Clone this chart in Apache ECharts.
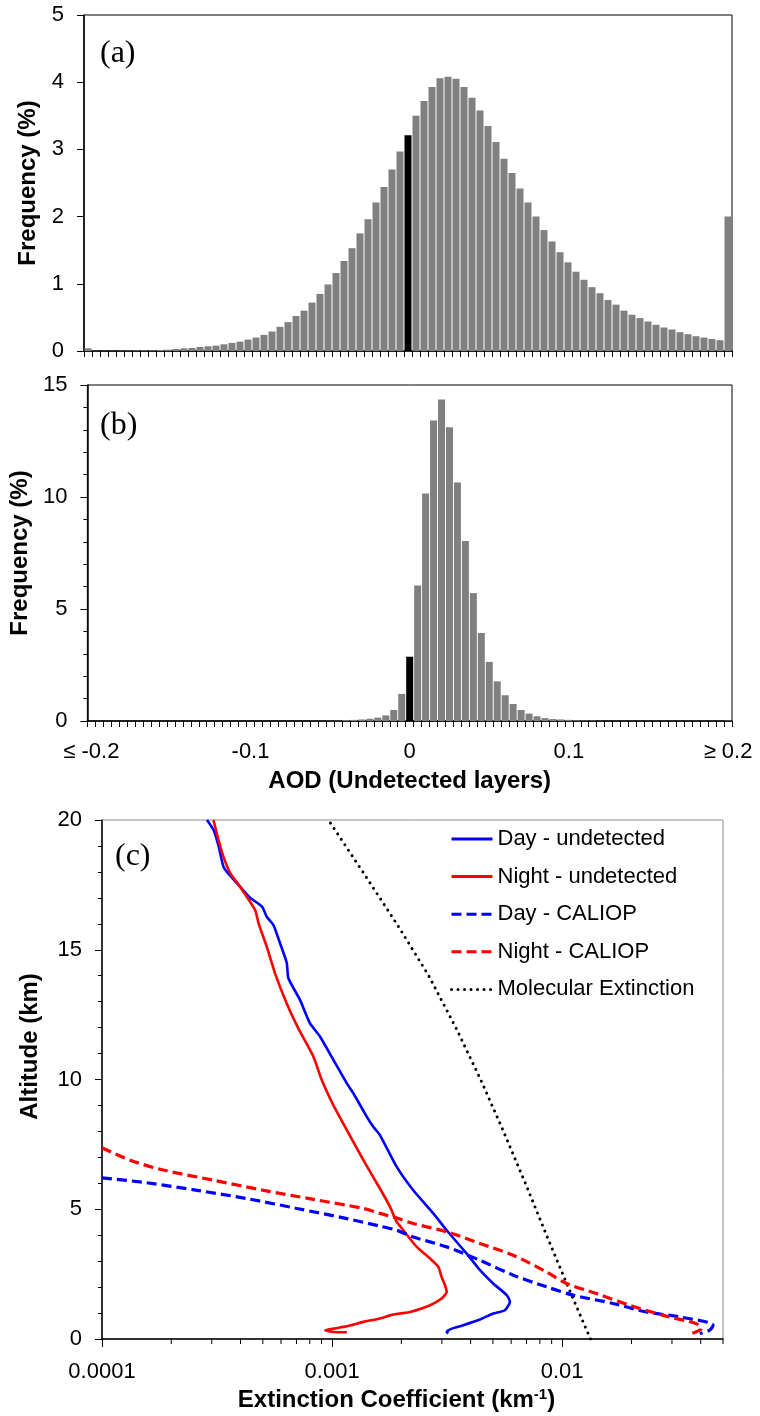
<!DOCTYPE html>
<html><head><meta charset="utf-8">
<script src="https://cdn.jsdelivr.net/npm/echarts@6/dist/echarts.min.js"></script>
<style>html,body{margin:0;padding:0;background:#fff}#c{width:760px;height:1416px}</style>
</head><body><div id="c"></div>
<script>
// ---------- data ----------
const categories = [
 "-0.200","-0.195","-0.190","-0.185","-0.180","-0.175","-0.170","-0.165","-0.160","-0.155",
 "-0.150","-0.145","-0.140","-0.135","-0.130","-0.125","-0.120","-0.115","-0.110","-0.105",
 "-0.100","-0.095","-0.090","-0.085","-0.080","-0.075","-0.070","-0.065","-0.060","-0.055",
 "-0.050","-0.045","-0.040","-0.035","-0.030","-0.025","-0.020","-0.015","-0.010","-0.005",
 "0.000","0.005","0.010","0.015","0.020","0.025","0.030","0.035","0.040","0.045",
 "0.050","0.055","0.060","0.065","0.070","0.075","0.080","0.085","0.090","0.095",
 "0.100","0.105","0.110","0.115","0.120","0.125","0.130","0.135","0.140","0.145",
 "0.150","0.155","0.160","0.165","0.170","0.175","0.180","0.185","0.190","0.195",
 "0.200"];
const freqA = [
 0.04,0.003,0.003,0.004,0.005,0.006,0.008,0.01,0.01,0.015,
 0.02,0.03,0.04,0.045,0.06,0.07,0.08,0.10,0.12,0.14,
 0.17,0.20,0.24,0.29,0.36,0.43,0.52,0.60,0.72,0.85,
 0.99,1.16,1.34,1.53,1.75,1.96,2.21,2.44,2.70,2.97,
 3.21,3.50,3.72,3.93,4.06,4.08,4.05,3.93,3.77,3.58,
 3.35,3.11,2.86,2.65,2.42,2.21,2.00,1.80,1.63,1.47,
 1.32,1.18,1.06,0.95,0.86,0.76,0.69,0.60,0.54,0.49,
 0.44,0.39,0.35,0.32,0.28,0.25,0.22,0.20,0.18,0.16,
 2.00];
const freqB = [
 0,0,0,0,0,0,0,0,0,0,
 0,0,0,0,0,0,0,0,0,0,
 0,0,0,0,0,0,0,0,0.005,0.005,
 0.01,0.015,0.04,0.05,0.07,0.10,0.15,0.25,0.49,1.21,
 2.87,6.05,10.16,13.41,14.35,13.11,10.65,8.04,5.71,3.93,
 2.64,1.77,1.15,0.76,0.49,0.33,0.21,0.13,0.09,0.07,
 0.05,0.03,0.02,0.02,0.01,0.005,0.005,0.005,0.005,0.005,
 0.005,0.005,0.005,0.005,0.005,0.005,0.005,0.005,0.005,0.005,
 0.02];
const zeroBinIndex = 40;
const xTickIndex = [0, 20, 40, 60, 80];
const xTickText = ['\u2264 -0.2', '-0.1', '0', '0.1', '\u2265 0.2'];

// [extinction (km-1), altitude (km)]
const dayUndetected = [
 [0.000286,20.0],[0.000306,19.6],[0.000321,19.0],[0.000337,18.2],[0.000349,18.0],
 [0.000392,17.5],[0.000441,17.0],[0.000496,16.66],[0.000520,16.27],[0.000556,15.95],
 [0.000594,15.25],[0.000635,14.5],[0.000646,13.9],[0.000726,13.06],[0.000802,12.16],
 [0.000887,11.65],[0.001014,10.75],[0.001159,9.85],[0.001239,9.46],[0.001416,8.56],
 [0.00151,8.18],[0.001614,7.86],[0.00191,6.63],[0.002254,5.73],[0.002754,4.84],
 [0.003148,4.19],[0.003846,3.29],[0.004395,2.65],[0.005012,2.14],[0.005741,1.69],
 [0.005929,1.43],[0.005636,1.11],[0.005012,0.98],[0.004395,0.75],[0.003715,0.53],
 [0.003311,0.40],[0.003148,0.27],[0.0032,0.21]];
const nightUndetected = [
 [0.000305,20.0],[0.000321,19.23],[0.000337,18.59],[0.000361,17.95],[0.000398,17.43],
 [0.000463,16.53],[0.000479,16.02],[0.00052,15.12],[0.000565,14.09],[0.000635,12.93],
 [0.000715,11.95],[0.00083,10.88],[0.0009,10.0],[0.001014,9.0],[0.001159,8.05],
 [0.001368,6.89],[0.001614,5.8],[0.001786,5.09],[0.00191,4.51],[0.002042,4.19],
 [0.002333,3.55],[0.002667,3.10],[0.002897,2.78],[0.002992,2.39],[0.003097,2.07],
 [0.003148,1.81],[0.002992,1.56],[0.002667,1.30],[0.002183,1.04],[0.00197,0.98],
 [0.001786,0.91],[0.001614,0.79],[0.001368,0.66],[0.001159,0.49],[0.001014,0.40],
 [0.000933,0.34],[0.001014,0.27],[0.001159,0.26]];
const dayCaliop = [
 [0.0001,6.21],[0.0001567,6.02],[0.000259,5.73],[0.000427,5.41],[0.000703,5.03],
 [0.001159,4.64],[0.001614,4.35],[0.00191,4.19],[0.002254,3.93],[0.003148,3.55],
 [0.004395,3.03],[0.006124,2.46],[0.00855,2.01],[0.01117,1.69],[0.01663,1.37],
 [0.02323,1.04],[0.03243,0.85],[0.04529,0.53],[0.04375,0.34],[0.03963,0.21]];
const nightCaliop = [
 [0.0001,7.37],[0.0001327,6.89],[0.000185,6.51],[0.000305,6.12],[0.000504,5.73],
 [0.00083,5.38],[0.001368,5.03],[0.001614,4.84],[0.00191,4.66],[0.002254,4.45],
 [0.003148,4.13],[0.004395,3.68],[0.006124,3.23],[0.00855,2.58],[0.01045,2.14],
 [0.0141,1.75],[0.01968,1.30],[0.02748,0.91],[0.03828,0.59],[0.04027,0.40],[0.03648,0.21]];
const molecular = [
 [0.01327,0],[0.01062,2],[0.00855,4],[0.00692,6],[0.00556,8],[0.00442,10],
 [0.00345,12],[0.00263,14],[0.00191,16],[0.00136,18],[0.000964,20]];

const logTickValues = [0.0001, 0.001, 0.01];
const logTickText = ['0.0001', '0.001', '0.01'];
const logMinorTicks = [0.0002,0.0003,0.0004,0.0005,0.0006,0.0007,0.0008,0.0009,
 0.002,0.003,0.004,0.005,0.006,0.007,0.008,0.009,0.02,0.03,0.04,0.05];
const seriesNames = ['Day - undetected','Night - undetected','Day - CALIOP','Night - CALIOP','Molecular Extinction'];

// ---------- chart ----------
const FONT = '"Liberation Sans", Arial, sans-serif';
const SERIF = '"Liberation Serif", "Times New Roman", serif';
const chart = echarts.init(document.getElementById('c'), null, {renderer: 'canvas'});

const tickLabelStyle = {fontSize: 22, fontFamily: FONT, color: '#000'};
const nameStyle = {fontSize: 24, fontWeight: 'bold', fontFamily: FONT, color: '#000'};

function catAxis(gi, withLabels) {
  const ax = {
    type: 'category', gridIndex: gi, data: categories, boundaryGap: true,
    axisLine: {show: true, lineStyle: {color: '#000', width: 1.5}},
    axisTick: {show: true, interval: 0, length: 6, lineStyle: {color: '#000', width: 1}},
    splitLine: {show: false},
    axisLabel: {show: false}
  };
  if (withLabels) {
    ax.axisLabel = Object.assign({
      show: true, margin: 20,
      interval: (i) => xTickIndex.indexOf(i) >= 0,
      formatter: (v, i) => { const k = xTickIndex.indexOf(i); return k >= 0 ? xTickText[k] : ''; }
    }, tickLabelStyle);
    ax.name = 'AOD (Undetected layers)';
    ax.nameLocation = 'middle';
    ax.nameGap = 48;
    ax.nameTextStyle = nameStyle;
  }
  return ax;
}

function valAxis(gi, max, interval, minor, name, gap, shiftUp) {
  return {
    type: 'value', gridIndex: gi, min: 0, max: max, interval: interval,
    axisLine: {show: true, lineStyle: {color: '#000', width: 1.5}},
    axisTick: {show: true, length: 7, lineStyle: {color: '#000', width: 1}},
    minorTick: {show: minor, splitNumber: 5, length: 4, lineStyle: {color: '#000', width: 1}},
    splitLine: {show: false}, minorSplitLine: {show: false},
    axisLabel: Object.assign({margin: 20}, tickLabelStyle),
    name: name, nameLocation: 'middle', nameGap: gap, nameRotate: 90,
    nameTextStyle: Object.assign({padding: [0, 0, 0, shiftUp]}, nameStyle)
  };
}

function barSeries(idx, data) {
  return {
    type: 'bar', xAxisIndex: idx, yAxisIndex: idx, data: data, barWidth: 7,
    itemStyle: {color: (p) => p.dataIndex === zeroBinIndex ? '#000000' : '#808080'},
    silent: true
  };
}

function lineSeries(name, data, color, type, width, smooth) {
  return {
    type: 'line', name: name, xAxisIndex: 2, yAxisIndex: 2, data: data,
    symbol: 'none', showSymbol: false, symbolSize: 0, smooth: smooth,
    lineStyle: {color: color, width: width, type: type, cap: Array.isArray(type) && type[0] < 1 ? 'round' : 'butt'},
    itemStyle: {color: color}, silent: true, z: 3
  };
}

const option = {
  animation: false,
  backgroundColor: '#fff',
  grid: [
    {left: 84, top: 15, width: 648, height: 336, show: true, borderColor: '#000', borderWidth: 1, backgroundColor: 'transparent'},
    {left: 84, top: 385, width: 648, height: 336, show: true, borderColor: '#000', borderWidth: 1, backgroundColor: 'transparent'},
    {left: 102, top: 820, width: 621, height: 519, show: true, borderColor: '#8c8c8c', borderWidth: 1, backgroundColor: 'transparent'}
  ],
  xAxis: [
    catAxis(0, false),
    catAxis(1, true),
    {
      type: 'log', gridIndex: 2, logBase: 10, min: 0.0001, max: 0.05,
      axisLine: {show: true, lineStyle: {color: '#000', width: 1.5}},
      axisTick: {show: true, length: 8, lineStyle: {color: '#000', width: 1}},
      minorTick: {show: false}, splitLine: {show: false},
      axisLabel: Object.assign({
        margin: 22, showMaxLabel: false,
        formatter: (v) => {
          const k = logTickValues.findIndex(t => Math.abs(t - v) / t < 1e-6);
          return k >= 0 ? logTickText[k] : '';
        }
      }, tickLabelStyle),
      name: '{t|Extinction Coefficient (km}{s|-1}{t|)}',
      nameLocation: 'middle', nameGap: 48,
      nameTextStyle: {
        padding: [0, 32, 0, 0],
        rich: {
          t: {fontSize: 24, fontWeight: 'bold', fontFamily: FONT, color: '#000'},
          s: {fontSize: 15, fontWeight: 'bold', fontFamily: FONT, color: '#000', padding: [0, 0, 12, 0]}
        }
      }
    }
  ],
  yAxis: [
    valAxis(0, 5, 1, false, 'Frequency (%)', 42, 0),
    valAxis(1, 15, 5, true, 'Frequency (%)', 42, 0),
    valAxis(2, 20, 5, true, 'Altitude (km)', 60, 66)
  ],
  legend: {
    orient: 'vertical', left: 450, top: 827, padding: 0,
    itemWidth: 41, itemHeight: 14, itemGap: 13.6,
    data: seriesNames,
    itemStyle: {opacity: 0},
    lineStyle: {width: 3},
    textStyle: {fontSize: 22, fontFamily: FONT, color: '#000', lineHeight: 24},
    selectedMode: false
  },
  series: [
    barSeries(0, freqA),
    barSeries(1, freqB),
    lineSeries(seriesNames[4], molecular, '#000000', [0.01, 6.5], 3, false),
    lineSeries(seriesNames[0], dayUndetected, '#0000ff', 'solid', 2.6, 0.2),
    lineSeries(seriesNames[1], nightUndetected, '#ff0000', 'solid', 2.6, 0.2),
    lineSeries(seriesNames[2], dayCaliop, '#0000ff', [10, 5], 3.2, 0.3),
    lineSeries(seriesNames[3], nightCaliop, '#ff0000', [10, 5], 3.2, 0.3),
    {
      type: 'custom', xAxisIndex: 2, yAxisIndex: 2, silent: true, clip: false,
      data: logMinorTicks.map(v => [v, 0]),
      renderItem: (params, api) => {
        const p = api.coord([api.value(0), 0]);
        return {type: 'line', shape: {x1: p[0], y1: p[1], x2: p[0], y2: p[1] + 5},
                style: {stroke: '#000', lineWidth: 1}};
      }
    }
  ],
  graphic: [
    {type: 'text', x: 100, y: 54, style: {text: '(a)', fontSize: 32, fontFamily: SERIF, fill: '#000', verticalAlign: 'middle'}},
    {type: 'text', x: 100, y: 426, style: {text: '(b)', fontSize: 32, fontFamily: SERIF, fill: '#000', verticalAlign: 'middle'}},
    {type: 'text', x: 115, y: 857, style: {text: '(c)', fontSize: 32, fontFamily: SERIF, fill: '#000', verticalAlign: 'middle'}}
  ]
};
chart.setOption(option);
</script>
</body></html>
